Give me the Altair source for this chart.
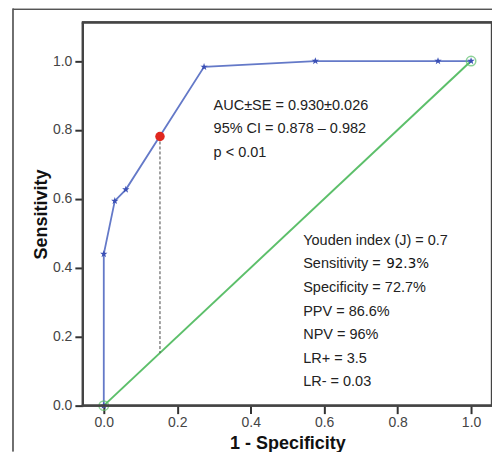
import altair as alt
import pandas as pd

# ROC curve points (1 - specificity, sensitivity)
roc_fpr = [0.0, 0.0, 0.030, 0.060, 0.273, 0.576, 0.910, 1.0]
roc_tpr = [0.0, 0.44, 0.594, 0.627, 0.983, 1.0, 1.0, 1.0]

# reference diagonal
diag_x = [0.0, 1.0]
diag_y = [0.0, 1.0]

# optimal cut-off point
cut_x = [0.153]
cut_y = [0.781]

# annotation texts
block1 = ["AUC\u00b1SE = 0.930\u00b10.026", "95% CI = 0.878 \u2013 0.982", "p < 0.01"]
block2 = ["Youden index (J) = 0.7", "Sensitivity = ", "Specificity = 72.7%",
          "PPV = 86.6%", "NPV = 96%", "LR+ = 3.5", "LR- = 0.03"]
sens_value = ["92.3%"]

x_ticks = [0.0, 0.2, 0.4, 0.6, 0.8, 1.0]
y_ticks = [0.0, 0.2, 0.4, 0.6, 0.8, 1.0]

FONT = "Liberation Sans"
xdom = [-0.057, 1.057]
ydom = [0.0, 1.112]
W, H = 410, 384

roc_df = pd.DataFrame({"x": roc_fpr, "y": roc_tpr})
diag_df = pd.DataFrame({"x": diag_x, "y": diag_y})
cut_df = pd.DataFrame({"x": cut_x, "y": cut_y})
drop_df = pd.DataFrame({"x": [cut_x[0], cut_x[0]], "y": [cut_y[0], cut_x[0]]})

b1_df = pd.DataFrame({"t": block1, "x": [0.299] * 3,
                      "y": [0.870 - 0.068 * i for i in range(3)]})
b2_y = [0.478 - 0.0683 * i for i in range(7)]
b2_df = pd.DataFrame({"t": block2, "x": [0.543] * 7, "y": b2_y})
sv_df = pd.DataFrame({"t": sens_value, "x": [0.769], "y": [b2_y[1]]})

xs = alt.Scale(domain=xdom, nice=False, zero=False)
ys = alt.Scale(domain=ydom, nice=False, zero=False)

xaxis = alt.Axis(values=x_ticks, format=".1f", title="1 - Specificity", grid=False,
                 domain=False, tickSize=8, tickWidth=2, tickColor="#333",
                 labelFontSize=14, labelColor="#444", labelFont=FONT, labelPadding=2,
                 titleFont=FONT, titleFontSize=18, titleFontWeight="bold",
                 titleColor="#111", titlePadding=5)
yaxis = alt.Axis(values=y_ticks, format=".1f", title="Sensitivity", grid=False,
                 domain=False, tickSize=8, tickWidth=2, tickColor="#333",
                 labelFontSize=14, labelColor="#444", labelFont=FONT, labelPadding=3,
                 titleFont=FONT, titleFontSize=18, titleFontWeight="bold",
                 titleColor="#111", titlePadding=2)

X = lambda: alt.X("x:Q", scale=xs, axis=xaxis)
Y = lambda: alt.Y("y:Q", scale=ys, axis=yaxis)

diag = alt.Chart(diag_df).mark_line(color="#5cbf6a", strokeWidth=2).encode(x=X(), y=Y())
diag_pts = alt.Chart(diag_df).mark_point(shape="circle", size=90, color="#5cbf6a",
                                         strokeWidth=1.5, filled=False).encode(x=X(), y=Y())
drop = alt.Chart(drop_df).mark_line(color="#444", strokeWidth=1,
                                    strokeDash=[3, 2]).encode(x=X(), y=Y())
roc = alt.Chart(roc_df).mark_line(color="#6479c8", strokeWidth=1.8).encode(x=X(), y=Y())
star = ("M0,-1L0.235,-0.324L0.951,-0.309L0.38,0.124L0.588,0.809L0,0.4"
        "L-0.588,0.809L-0.38,0.124L-0.951,-0.309L-0.235,-0.324Z")
roc_pts = alt.Chart(roc_df).mark_point(shape=star, size=60, filled=True, opacity=1,
                                       color="#3a4fb5").encode(x=X(), y=Y())
cut = alt.Chart(cut_df).mark_point(shape="circle", size=90, filled=True, opacity=1,
                                   color="#e0271f").encode(x=X(), y=Y())
t1 = alt.Chart(b1_df).mark_text(align="left", baseline="middle", font=FONT,
                                fontSize=14.5, color="#222").encode(x=X(), y=Y(), text="t:N")
t2 = alt.Chart(b2_df).mark_text(align="left", baseline="middle", font=FONT,
                                fontSize=14.5, color="#222").encode(x=X(), y=Y(), text="t:N")
t3 = alt.Chart(sv_df).mark_text(align="left", baseline="middle", font="DejaVu Sans",
                                fontSize=13.5, color="#111").encode(x=X(), y=Y(), text="t:N")

def rule(color, width, **enc):
    return alt.Chart(diag_df).mark_rule(color=color, strokeWidth=width, clip=False).encode(**enc)

TOP = 14
BOTTOM = 46
# outer page frame (decorative)
frame_v = rule("#555", 1.2, x=alt.value(-70), y=alt.value(-TOP), y2=alt.value(H + BOTTOM))
frame_h = rule("#555", 1.2, x=alt.value(-70), x2=alt.value(412), y=alt.value(-TOP + 1))
# plot box
box = [
    rule("#444", 2.2, x=alt.value(0), y=alt.value(0), y2=alt.value(H)),
    rule("#444", 2.2, x=alt.value(W), y=alt.value(0), y2=alt.value(H)),
    rule("#444", 2.2, x=alt.value(-1), x2=alt.value(W + 1), y=alt.value(0)),
    rule("#444", 2.2, x=alt.value(-1), x2=alt.value(W + 1), y=alt.value(H)),
]

chart = alt.layer(frame_v, frame_h, diag, drop, roc, roc_pts, diag_pts, cut, t1, t2, t3,
                  *box).properties(
    width=W, height=H,
    autosize=alt.AutoSizeParams(type="none"),
    padding={"left": 75, "top": TOP, "right": 0, "bottom": BOTTOM},
).configure_view(strokeWidth=0).configure(background="white")

chart.save("out.html", embed_options={"renderer": "svg", "actions": False})
